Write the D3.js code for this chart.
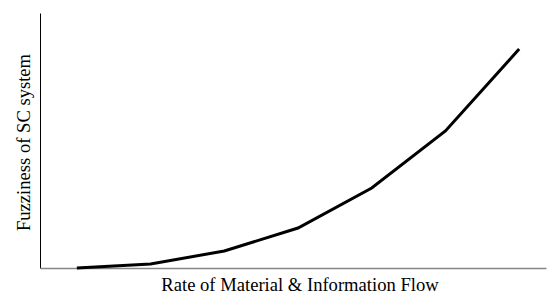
<!DOCTYPE html>
<html>
<head>
<meta charset="utf-8">
<script src="https://cdn.jsdelivr.net/npm/d3@7"></script>
<style>
  body { margin: 0; background: #fff; }
</style>
</head>
<body>
<svg id="chart" width="548" height="295"></svg>
<script>
// stages along the flow rate axis (no tick labels shown)
const stages = [1, 2, 3, 4, 5, 6, 7];
// fuzziness (arbitrary units)
const fuzziness = [0, 4, 17, 40, 80, 137, 219];
const xTitle = "Rate of Material & Information Flow";
const yTitle = "Fuzziness of SC system";

const serif = "'Liberation Serif', 'Times New Roman', Times, serif";

const svg = d3.select("#chart");
const margin = { l: 40, t: 13, b: 27 };
const plotH = 295 - margin.t - margin.b;

const x = d3.scalePoint()
    .domain(stages)
    .range([40, 556])
    .padding(0.5);

const y = d3.scaleLinear()
    .domain([0, 255])
    .range([margin.t + plotH, margin.t]);

// y axis (black), no ticks
const axisY = d3.axisLeft(y).tickValues([]).tickSizeOuter(0);
svg.append("g")
    .attr("class", "axis axis-y")
    .attr("transform", `translate(${margin.l}, 0)`)
    .call(axisY)
    .select(".domain")
    .attr("stroke", "#000")
    .attr("stroke-width", 1);

// x axis (grey), no ticks
const xAxisScale = d3.scaleLinear().domain([0, 1]).range([margin.l, 546]);
const axisX = d3.axisBottom(xAxisScale).tickValues([]).tickSizeOuter(0);
svg.append("g")
    .attr("class", "axis axis-x")
    .attr("transform", `translate(0, ${y(0)})`)
    .call(axisX)
    .select(".domain")
    .attr("stroke", "#868686")
    .attr("stroke-width", 1.5);

const line = d3.line()
    .x((d, i) => x(stages[i]))
    .y(d => y(d));

svg.append("path")
    .datum(fuzziness)
    .attr("fill", "none")
    .attr("stroke", "#000")
    .attr("stroke-width", 3)
    .attr("d", line);

svg.append("text")
    .attr("x", 300)
    .attr("y", 291)
    .attr("text-anchor", "middle")
    .attr("font-family", serif)
    .attr("font-size", 18.6)
    .attr("fill", "#000")
    .text(xTitle);

svg.append("text")
    .attr("transform", "translate(30, 142.5) rotate(-90)")
    .attr("text-anchor", "middle")
    .attr("font-family", serif)
    .attr("font-size", 18.6)
    .attr("fill", "#000")
    .text(yTitle);
</script>
</body>
</html>
